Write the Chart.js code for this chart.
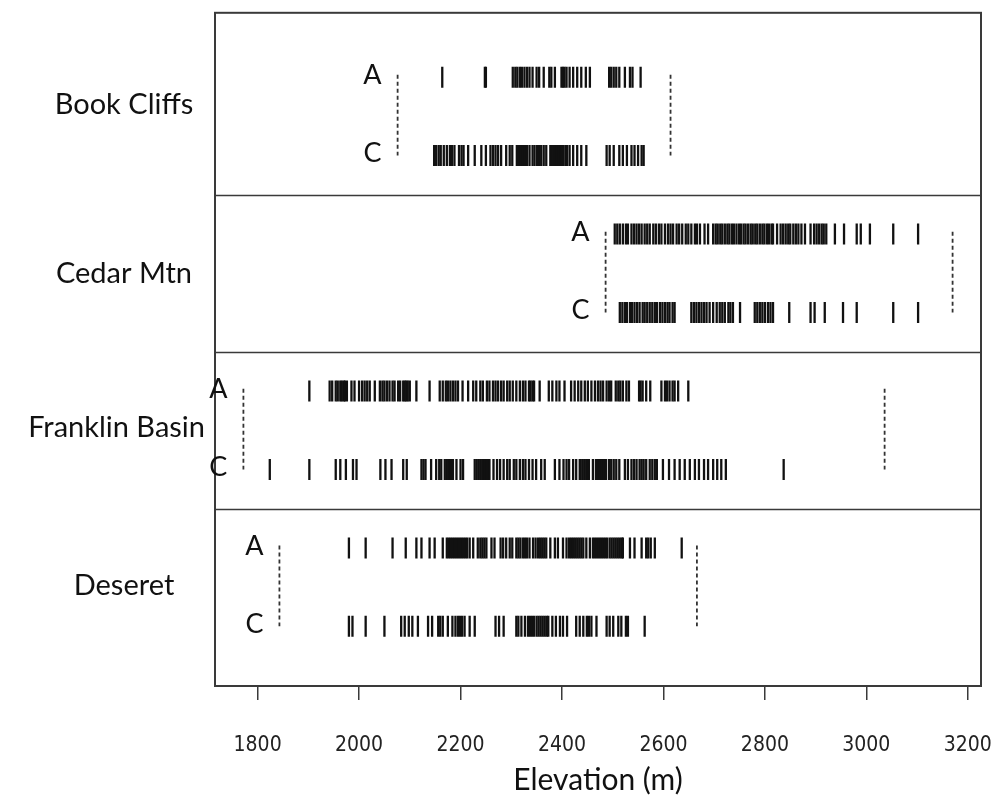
<!DOCTYPE html>
<html>
<head>
<meta charset="utf-8">
<script src="https://cdn.jsdelivr.net/npm/chart.js@4.4.1/dist/chart.umd.min.js"></script>
<style>
  html, body { margin: 0; padding: 0; background: #ffffff; }
  #wrap { width: 997px; height: 800px; }
</style>
</head>
<body>
<div id="wrap"><canvas id="chart-elevation"></canvas></div>
<script>
const PANELS = ["Book Cliffs", "Cedar Mtn", "Franklin Basin", "Deseret"];
const GROUPS = ["A", "C"];
const X_TICKS = [1800, 2000, 2200, 2400, 2600, 2800, 3000, 3200];

// elevation of each sampled site (m)
const BOOK_A = [2164, 2248, 2250, 2303, 2308, 2312, 2317, 2321, 2326, 2331, 2336, 2342, 2350, 2355,
  2364, 2375, 2379, 2386, 2399, 2402, 2405, 2409, 2415, 2422, 2430, 2438, 2447, 2455, 2493, 2497,
  2502, 2507, 2513, 2524, 2534, 2539, 2555];
const BOOK_C = [2148, 2152, 2157, 2161, 2167, 2173, 2179, 2183, 2188, 2197, 2202, 2206, 2215, 2228,
  2241, 2250, 2259, 2264, 2269, 2274, 2280, 2290, 2297, 2302, 2311, 2315, 2319, 2323, 2327, 2331,
  2336, 2342, 2346, 2351, 2355, 2359, 2364, 2369, 2377, 2380, 2384, 2387, 2390, 2394, 2397, 2400,
  2403, 2407, 2410, 2415, 2422, 2430, 2438, 2448, 2488, 2494, 2502, 2513, 2520, 2528, 2537, 2543,
  2550, 2557, 2561];
const CEDAR_A = [2504, 2509, 2514, 2520, 2526, 2530, 2537, 2542, 2547, 2552, 2557, 2563, 2568, 2573,
  2580, 2585, 2591, 2596, 2603, 2609, 2614, 2619, 2626, 2631, 2637, 2644, 2649, 2655, 2662, 2666,
  2672, 2681, 2688, 2698, 2703, 2707, 2712, 2716, 2721, 2726, 2730, 2735, 2739, 2744, 2749, 2753,
  2758, 2762, 2767, 2772, 2776, 2781, 2785, 2790, 2795, 2799, 2804, 2808, 2813, 2816, 2824, 2831,
  2836, 2841, 2846, 2850, 2856, 2861, 2866, 2872, 2879, 2890, 2897, 2902, 2907, 2912, 2916, 2921,
  2938, 2956, 2981, 2989, 3007, 3053, 3102];
const CEDAR_C = [2514, 2519, 2524, 2528, 2534, 2538, 2543, 2548, 2553, 2559, 2563, 2568, 2573, 2578,
  2583, 2587, 2593, 2598, 2603, 2608, 2612, 2618, 2622, 2655, 2660, 2665, 2670, 2675, 2680, 2685,
  2691, 2698, 2705, 2711, 2716, 2721, 2728, 2732, 2737, 2751, 2780, 2785, 2790, 2795, 2800, 2806,
  2811, 2816, 2848, 2890, 2898, 2918, 2954, 2981, 3053, 3102];
const FRANKLIN_A = [1902, 1942, 1947, 1954, 1958, 1963, 1966, 1970, 1972, 1976, 1985, 1991, 2000, 2006,
  2011, 2016, 2021, 2031, 2041, 2046, 2050, 2055, 2060, 2066, 2070, 2077, 2081, 2087, 2090, 2093,
  2096, 2100, 2113, 2139, 2159, 2165, 2171, 2175, 2180, 2185, 2190, 2195, 2204, 2215, 2225, 2231,
  2239, 2244, 2252, 2257, 2264, 2269, 2274, 2280, 2285, 2292, 2297, 2303, 2310, 2317, 2323, 2328,
  2335, 2338, 2342, 2345, 2356, 2374, 2381, 2389, 2395, 2405, 2418, 2425, 2432, 2438, 2445, 2451,
  2458, 2465, 2471, 2476, 2481, 2488, 2493, 2497, 2506, 2511, 2515, 2520, 2527, 2532, 2552, 2555,
  2559, 2566, 2574, 2596, 2603, 2607, 2612, 2618, 2622, 2629, 2649];
const FRANKLIN_C = [1824, 1902, 1954, 1963, 1974, 1988, 1995, 2042, 2052, 2064, 2087, 2094, 2123, 2127,
  2131, 2142, 2152, 2158, 2162, 2169, 2173, 2177, 2181, 2185, 2192, 2200, 2205, 2228, 2232, 2236,
  2240, 2244, 2248, 2251, 2254, 2257, 2265, 2272, 2278, 2285, 2292, 2297, 2305, 2310, 2317, 2323,
  2328, 2335, 2342, 2349, 2359, 2366, 2386, 2395, 2403, 2409, 2414, 2422, 2428, 2435, 2437, 2441,
  2445, 2449, 2453, 2461, 2467, 2471, 2475, 2479, 2483, 2487, 2493, 2497, 2502, 2507, 2513, 2524,
  2530, 2537, 2542, 2547, 2553, 2557, 2561, 2566, 2573, 2578, 2583, 2587, 2599, 2611, 2622, 2632,
  2642, 2652, 2662, 2670, 2680, 2688, 2698, 2706, 2714, 2723, 2837];
const DESERET_A = [1980, 2013, 2066, 2092, 2113, 2123, 2139, 2149, 2165, 2173, 2177, 2181, 2185, 2189,
  2193, 2197, 2201, 2205, 2209, 2213, 2218, 2225, 2234, 2239, 2243, 2247, 2251, 2261, 2267, 2279,
  2284, 2290, 2297, 2302, 2310, 2314, 2318, 2323, 2327, 2331, 2336, 2343, 2348, 2353, 2357, 2361,
  2365, 2369, 2377, 2386, 2392, 2402, 2409, 2414, 2418, 2422, 2426, 2430, 2434, 2438, 2442, 2448,
  2455, 2461, 2465, 2469, 2473, 2477, 2481, 2485, 2489, 2494, 2498, 2502, 2506, 2510, 2514, 2518,
  2520, 2534, 2543, 2557, 2566, 2570, 2575, 2583, 2636];
const DESERET_C = [1980, 1987, 2013, 2050, 2083, 2090, 2098, 2105, 2116, 2136, 2144, 2156, 2160, 2165,
  2175, 2184, 2190, 2195, 2199, 2203, 2208, 2218, 2228, 2269, 2276, 2285, 2310, 2314, 2320, 2327,
  2333, 2337, 2341, 2345, 2350, 2354, 2358, 2362, 2366, 2370, 2373, 2381, 2388, 2396, 2402, 2410,
  2428, 2435, 2442, 2449, 2453, 2458, 2468, 2488, 2494, 2501, 2511, 2517, 2526, 2530, 2563];

const SITES = [
  [BOOK_A, BOOK_C],
  [CEDAR_A, CEDAR_C],
  [FRANKLIN_A, FRANKLIN_C],
  [DESERET_A, DESERET_C],
];

// elevation range of each mountain range (m)
const RANGE_LOW = [2076, 2486, 1772, 1843];
const RANGE_HIGH = [2614, 3170, 3036, 2666];

// R-style axis: data range widened by 4% on each side
const X_MIN = 1716;
const X_MAX = 3226;
const INK = "#111111";
const FRAME = "#3a3a3a";
const LABEL_FONT = "Lato, 'Open Sans', sans-serif";
const TICK_FONT = "'Liberation Sans Narrow', 'DejaVu Sans Condensed', 'Liberation Sans', sans-serif";

// row index on the y scale, 1 = top
function rowOf(panel, group) {
  return panel * 2 + group + 1;
}

const datasets = [];

SITES.forEach((pair, p) => {
  pair.forEach((values, g) => {
    datasets.push({
      type: "scatter",
      label: PANELS[p] + " " + GROUPS[g],
      data: values.map((v) => ({ x: v, y: rowOf(p, g) })),
      pointStyle: "line",
      rotation: 90,
      pointRadius: 10.5,
      pointHoverRadius: 10.5,
      borderColor: INK,
      backgroundColor: INK,
      borderWidth: 2.3,
    });
  });

  [RANGE_LOW[p], RANGE_HIGH[p]].forEach((edge) => {
    datasets.push({
      type: "line",
      label: PANELS[p] + " range",
      data: [
        { x: edge, y: rowOf(p, 0) - 0.03 },
        { x: edge, y: rowOf(p, 1) },
      ],
      borderColor: "#333333",
      borderWidth: 1.8,
      borderDash: [4, 3],
      pointRadius: 0,
      fill: false,
    });
  });
});

// frame, panel separators, panel names and A / C letters
const panelDecor = {
  id: "panelDecor",
  afterDatasetsDraw(chart) {
    const { ctx, chartArea, scales } = chart;
    const x = scales.x;
    const y = scales.y;
    ctx.save();
    ctx.strokeStyle = FRAME;
    ctx.lineWidth = 2;
    ctx.strokeRect(chartArea.left, chartArea.top, chartArea.right - chartArea.left, chartArea.bottom - chartArea.top);

    const edges = [chartArea.top];
    ctx.lineWidth = 1.5;
    for (let p = 1; p < PANELS.length; p++) {
      const yy = Math.round(y.getPixelForValue(p * 2 + 0.5)) + 0.5;
      edges.push(yy);
      ctx.beginPath();
      ctx.moveTo(chartArea.left, yy);
      ctx.lineTo(chartArea.right, yy);
      ctx.stroke();
    }
    edges.push(chartArea.bottom);

    ctx.fillStyle = INK;
    ctx.textBaseline = "middle";
    ctx.textAlign = "center";
    ctx.font = "29px " + LABEL_FONT;
    PANELS.forEach((name, p) => {
      const w = ctx.measureText(name).width;
      const cx = Math.min(124, chartArea.left - 10 - w / 2);
      const mid = (edges[p] + edges[p + 1]) / 2;
      const cy = p === PANELS.length - 1 ? mid - 12 : p === 2 ? mid - 3 : mid;
      ctx.fillText(name, cx, cy);
    });

    ctx.font = "27px " + LABEL_FONT;
    ctx.textAlign = "right";
    PANELS.forEach((_, p) => {
      const xx = x.getPixelForValue(RANGE_LOW[p]) - 16;
      GROUPS.forEach((name, g) => {
        ctx.fillText(name, xx, y.getPixelForValue(rowOf(p, g)) - 2);
      });
    });
    ctx.restore();
  },
};

new Chart(document.getElementById("chart-elevation"), {
  data: { datasets },
  options: {
    responsive: true,
    maintainAspectRatio: false,
    animation: false,
    events: [],
    layout: { padding: { top: 12, right: 16, left: 0, bottom: 0 } },
    plugins: {
      legend: { display: false },
      tooltip: { enabled: false },
    },
    scales: {
      x: {
        type: "linear",
        min: X_MIN,
        max: X_MAX,
        afterBuildTicks: (scale) => {
          scale.ticks = X_TICKS.map((v) => ({ value: v }));
        },
        afterFit: (scale) => {
          scale.height = 114;
          // keep the 3200 label from pulling the frame inwards
          scale.paddingLeft = 0;
          scale.paddingRight = 0;
        },
        grid: {
          drawOnChartArea: false,
          drawTicks: true,
          tickLength: 14,
          color: FRAME,
          lineWidth: 1.5,
        },
        border: { display: false },
        ticks: {
          color: "#222222",
          padding: 33,
          maxRotation: 0,
          font: { family: TICK_FONT, size: 21 },
          callback: (value) => String(value),
        },
        title: {
          display: true,
          text: "Elevation (m)",
          color: INK,
          font: { family: LABEL_FONT, size: 30 },
          padding: { top: 0, bottom: 2 },
        },
      },
      y: {
        type: "linear",
        reverse: true,
        min: 0.18,
        max: 8.76,
        afterFit: (scale) => {
          scale.width = 215;
        },
        grid: { display: false, drawTicks: false },
        border: { display: false },
        ticks: { display: false },
      },
    },
  },
  plugins: [panelDecor],
});
</script>
</body>
</html>
